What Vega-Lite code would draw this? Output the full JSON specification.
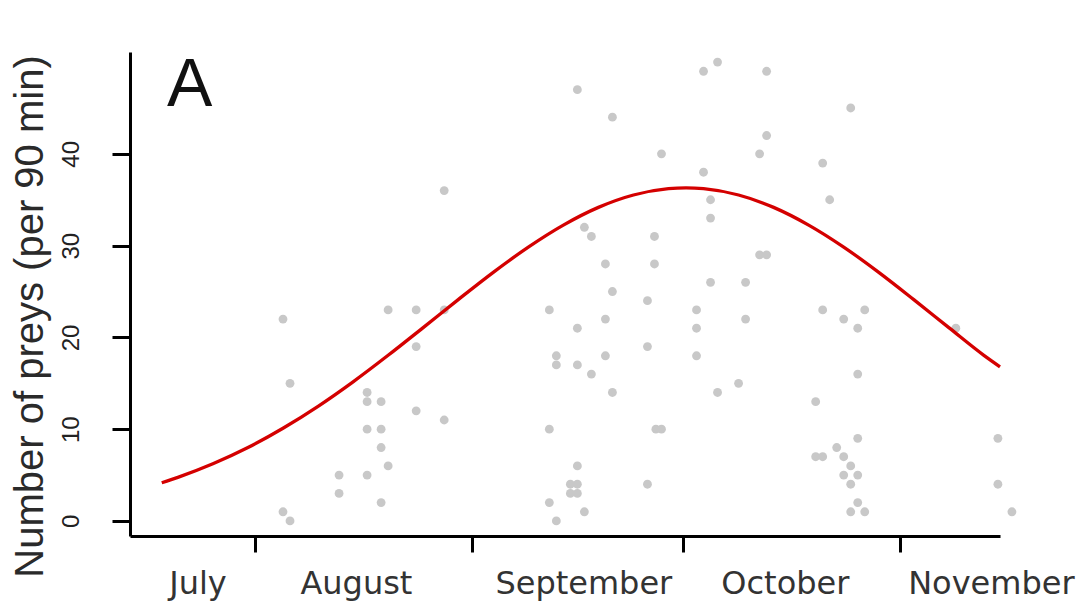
{
  "$schema": "https://vega.github.io/schema/vega-lite/v6.json",
  "width": 870,
  "height": 484,
  "autosize": {"type": "none"},
  "padding": {"left": 130, "top": 52, "right": 81, "bottom": 67},
  "background": "white",
  "config": {"view": {"stroke": null}},
  "datasets": {
    "obs": [
      {"day": 35, "prey": 22}, {"day": 36, "prey": 15}, {"day": 35, "prey": 1}, {"day": 36, "prey": 0},
      {"day": 50, "prey": 23}, {"day": 54, "prey": 23}, {"day": 58, "prey": 23}, {"day": 54, "prey": 19},
      {"day": 47, "prey": 14}, {"day": 47, "prey": 13}, {"day": 49, "prey": 13}, {"day": 54, "prey": 12},
      {"day": 58, "prey": 11}, {"day": 47, "prey": 10}, {"day": 49, "prey": 10}, {"day": 49, "prey": 8},
      {"day": 50, "prey": 6}, {"day": 43, "prey": 5}, {"day": 47, "prey": 5}, {"day": 43, "prey": 3},
      {"day": 49, "prey": 2}, {"day": 58, "prey": 36},
      {"day": 82, "prey": 25}, {"day": 87, "prey": 24}, {"day": 73, "prey": 23}, {"day": 94, "prey": 23},
      {"day": 96, "prey": 26}, {"day": 101, "prey": 26}, {"day": 101, "prey": 22}, {"day": 81, "prey": 22},
      {"day": 77, "prey": 21}, {"day": 94, "prey": 21}, {"day": 74, "prey": 18}, {"day": 74, "prey": 17},
      {"day": 77, "prey": 17}, {"day": 81, "prey": 18}, {"day": 87, "prey": 19}, {"day": 94, "prey": 18},
      {"day": 79, "prey": 16}, {"day": 82, "prey": 14}, {"day": 97, "prey": 14}, {"day": 100, "prey": 15},
      {"day": 73, "prey": 10}, {"day": 88.2, "prey": 10}, {"day": 89, "prey": 10}, {"day": 77, "prey": 6},
      {"day": 76, "prey": 4}, {"day": 77, "prey": 4}, {"day": 76, "prey": 3}, {"day": 77, "prey": 3},
      {"day": 73, "prey": 2}, {"day": 78, "prey": 1}, {"day": 74, "prey": 0}, {"day": 87, "prey": 4},
      {"day": 77, "prey": 47}, {"day": 82, "prey": 44}, {"day": 95, "prey": 49}, {"day": 97, "prey": 50},
      {"day": 89, "prey": 40}, {"day": 95, "prey": 38}, {"day": 96, "prey": 35}, {"day": 96, "prey": 33},
      {"day": 78, "prey": 32}, {"day": 79, "prey": 31}, {"day": 88, "prey": 31}, {"day": 81, "prey": 28},
      {"day": 88, "prey": 28},
      {"day": 104, "prey": 49}, {"day": 116, "prey": 45}, {"day": 104, "prey": 42}, {"day": 103, "prey": 40},
      {"day": 112, "prey": 39}, {"day": 113, "prey": 35}, {"day": 103, "prey": 29}, {"day": 104, "prey": 29},
      {"day": 112, "prey": 23}, {"day": 118, "prey": 23}, {"day": 115, "prey": 22}, {"day": 117, "prey": 21},
      {"day": 117, "prey": 16}, {"day": 111, "prey": 13}, {"day": 117, "prey": 9}, {"day": 111, "prey": 7},
      {"day": 112, "prey": 7}, {"day": 114, "prey": 8}, {"day": 115, "prey": 7}, {"day": 116, "prey": 6},
      {"day": 115, "prey": 5}, {"day": 117, "prey": 5}, {"day": 116, "prey": 4}, {"day": 117, "prey": 2},
      {"day": 116, "prey": 1}, {"day": 118, "prey": 1}, {"day": 131, "prey": 21}, {"day": 137, "prey": 9},
      {"day": 137, "prey": 4}, {"day": 139, "prey": 1}
    ],
    "fit": [
      {"day": 17.7, "prey": 4.16}, {"day": 20, "prey": 4.75}, {"day": 25, "prey": 6.23},
      {"day": 30, "prey": 8.0}, {"day": 35, "prey": 10.1}, {"day": 40, "prey": 12.49},
      {"day": 45, "prey": 15.16}, {"day": 50, "prey": 18.05}, {"day": 55, "prey": 21.07},
      {"day": 60, "prey": 24.12}, {"day": 65, "prey": 27.09}, {"day": 70, "prey": 29.84},
      {"day": 75, "prey": 32.24}, {"day": 80, "prey": 34.17}, {"day": 85, "prey": 35.52},
      {"day": 90, "prey": 36.21}, {"day": 92.5, "prey": 36.3}, {"day": 95, "prey": 36.21},
      {"day": 100, "prey": 35.52}, {"day": 105, "prey": 34.17}, {"day": 110, "prey": 32.24},
      {"day": 115, "prey": 29.84}, {"day": 120, "prey": 27.09}, {"day": 125, "prey": 24.12},
      {"day": 130, "prey": 21.07}, {"day": 135, "prey": 18.05}, {"day": 137.3, "prey": 16.8}
    ],
    "panel": [{"day": 21.7, "prey": 45.2, "label": "A"}]
  },
  "encoding": {
    "x": {
      "field": "day",
      "type": "quantitative",
      "scale": {"domain": [13.17, 137.3], "nice": false, "zero": false},
      "axis": {
        "orient": "bottom",
        "title": null,
        "grid": false,
        "values": [22.8, 31, 45.4, 62, 77.85, 92, 106.6, 123, 136],
        "labelExpr": "datum.value == 22.8 ? 'July' : datum.value == 45.4 ? 'August' : datum.value == 77.85 ? 'September' : datum.value == 106.6 ? 'October' : datum.value == 136 ? 'November' : ''",
        "labelOverlap": false,
        "labelFlush": false,
        "labelBound": false,
        "labelFont": "DejaVu Sans",
        "labelFontSize": 32,
        "labelColor": "#333333",
        "labelAlign": "center",
        "labelBaseline": "alphabetic",
        "labelPadding": 41,
        "tickSize": 16,
        "tickWidth": 3,
        "tickColor": "#000000",
        "tickOpacity": {"condition": {"test": "indexof([31, 62, 92, 123], datum.value) >= 0", "value": 1}, "value": 0},
        "domainColor": "#000000",
        "domainWidth": 3
      }
    },
    "y": {
      "field": "prey",
      "type": "quantitative",
      "scale": {"domain": [-1.64, 51.1], "nice": false, "zero": false},
      "axis": {
        "orient": "left",
        "title": "Number of preys (per 90 min)",
        "grid": false,
        "values": [0, 10, 20, 30, 40],
        "labelAngle": 270,
        "labelAlign": "center",
        "labelBaseline": "alphabetic",
        "labelPadding": 34,
        "labelFont": "Liberation Sans",
        "labelFontSize": 24,
        "labelColor": "#222222",
        "labelOverlap": false,
        "labelFlush": false,
        "tickSize": 18,
        "tickWidth": 3,
        "tickColor": "#000000",
        "domainColor": "#000000",
        "domainWidth": 3,
        "titleFont": "Liberation Sans",
        "titleFontSize": 40,
        "titleFontWeight": "normal",
        "titleColor": "#2a2a2a",
        "titleAngle": 270,
        "titleAlign": "center",
        "titleBaseline": "alphabetic",
        "titleX": -88,
        "titleY": 264
      }
    }
  },
  "layer": [
    {
      "data": {"name": "obs"},
      "mark": {"type": "circle", "color": "#c8c8c8", "opacity": 1, "size": 78}
    },
    {
      "data": {"name": "fit"},
      "mark": {"type": "line", "color": "#d40000", "strokeWidth": 3.3, "interpolate": "monotone"}
    },
    {
      "data": {"name": "panel"},
      "mark": {"type": "text", "font": "Liberation Sans", "fontSize": 68, "color": "#111111", "align": "center", "baseline": "alphabetic"},
      "encoding": {"text": {"field": "label"}}
    }
  ]
}
